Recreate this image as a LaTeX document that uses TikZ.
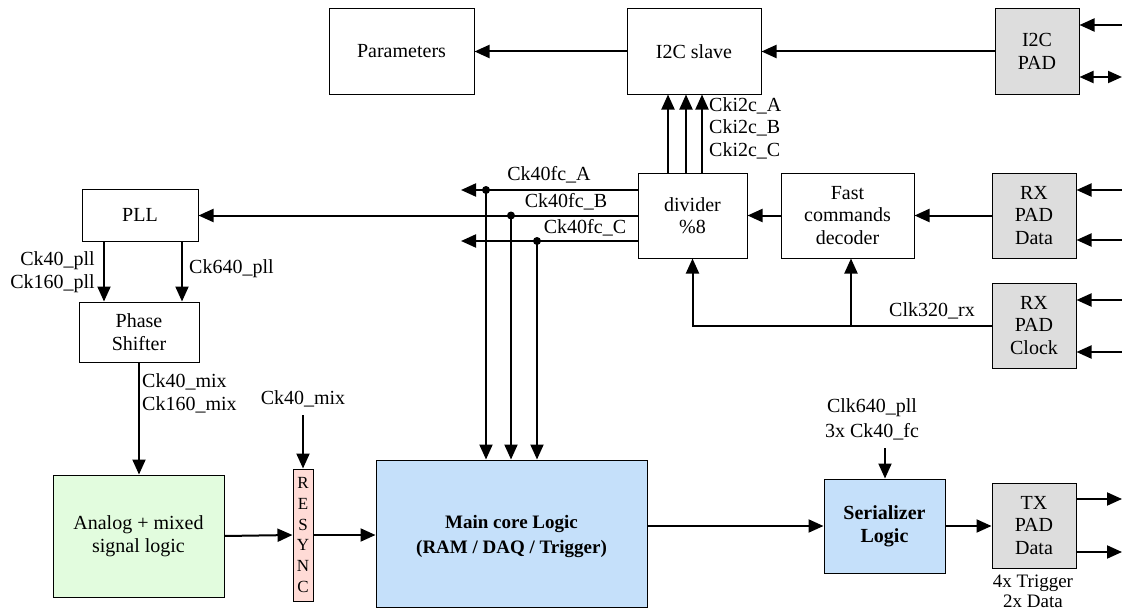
\documentclass[tikz,border=0pt]{standalone}
\usepackage{fontspec}
\setmainfont{Liberation Serif}
\usetikzlibrary{arrows.meta}
\definecolor{padgray}{RGB}{221,221,221}
\definecolor{anagreen}{RGB}{226,252,222}
\definecolor{syncpink}{RGB}{255,219,214}
\definecolor{coreblue}{RGB}{197,224,250}
\begin{document}
\begin{tikzpicture}[x=1pt,y=-1pt,
  box/.style={draw, line width=1pt, inner sep=0pt, align=center, font=\fontsize{20}{22.5}\selectfont},
  pad/.style={box, fill=padgray},
  conn/.style={line width=2pt, -{Triangle[length=15pt,width=13pt]}},
  dconn/.style={line width=2pt, {Triangle[length=14pt,width=12pt]}-{Triangle[length=14pt,width=12pt]}},
  lbl/.style={inner sep=0pt, font=\fontsize{20}{23}\selectfont},
  dot/.style={circle, fill=black, inner sep=0pt, minimum size=8pt}
]
\fill[white] (0,0) rectangle (1122,610);
\useasboundingbox (0,0) rectangle (1122,610);

% boxes
\node[box, minimum width=145pt, minimum height=85pt] (params) at (401.5,51.5) {Parameters};
\node[box, minimum width=134pt, minimum height=85pt] (i2cs) at (694,51.5) {I2C slave};
\node[pad, minimum width=84pt, minimum height=85pt] (i2cpad) at (1037,51.5) {I2C\\PAD};
\node[box, minimum width=109pt, minimum height=85pt] (div) at (692.5,215.5) {divider\\\%8};
\node[box, minimum width=133pt, minimum height=85pt] (fcd) at (847.5,215.5) {Fast\\commands\\decoder};
\node[pad, minimum width=84pt, minimum height=85pt] (rxd) at (1034,215.5) {RX\\PAD\\Data};
\node[pad, minimum width=84pt, minimum height=85pt] (rxc) at (1034,325.5) {RX\\PAD\\Clock};
\node[box, minimum width=116pt, minimum height=52pt] (pll) at (140,215) {PLL};
\node[box, minimum width=120pt, minimum height=60pt] (ps) at (139,332) {Phase\\Shifter};
\node[box, fill=anagreen, minimum width=171pt, minimum height=122pt] (ana) at (138.5,536) {Analog + mixed\\signal logic};
\node[box, fill=syncpink, minimum width=20pt, minimum height=132pt, font=\fontsize{17}{20.8}\selectfont] (sync) at (303,535) {R\\E\\S\\Y\\N\\C};
\node[box, fill=coreblue, minimum width=271pt, minimum height=147pt] (core) at (511.5,533.5) {};
\node[inner sep=0pt, align=center, font=\fontsize{19}{25}\selectfont\bfseries] (coretxt) at (511.5,537) {Main core Logic\\(RAM / DAQ / Trigger)};
\node[box, fill=coreblue, minimum width=121pt, minimum height=94pt, font=\fontsize{20}{23}\selectfont\bfseries] (ser) at (884.5,526) {Serializer\\Logic};
\node[pad, minimum width=84pt, minimum height=85pt] (tx) at (1034,525.5) {TX\\PAD\\Data};

% labels
\node[lbl, anchor=north west, align=left, font=\fontsize{20}{22.5}\selectfont] (lcki) at (709,97) {Cki2c\_A\\Cki2c\_B\\Cki2c\_C};
\node[lbl] (lfa) at (549,175) {Ck40fc\_A};
\node[lbl] (lfb) at (566,202) {Ck40fc\_B};
\node[lbl] (lfc) at (585,228) {Ck40fc\_C};
\node[lbl, anchor=east, align=right] (lpll) at (95,272) {Ck40\_pll\\Ck160\_pll};
\node[lbl, anchor=west] (l640) at (189,269) {Ck640\_pll};
\node[lbl, anchor=west, align=left] (lmix) at (142,393) {Ck40\_mix\\Ck160\_mix};
\node[lbl] (lmix2) at (303,399) {Ck40\_mix};
\node[lbl, align=center, font=\fontsize{20}{25}\selectfont] (lser) at (872,419) {Clk640\_pll\\3x Ck40\_fc};
\node[lbl] (l320) at (932,311) {Clk320\_rx};
\node[lbl, align=center, font=\fontsize{19}{20}\selectfont] (ltx) at (1033,591) {4x Trigger\\2x Data};

% free ends
\coordinate (fA) at (461,190);
\coordinate (fC) at (461,241);
\coordinate (i2cin) at (1122,25);
\coordinate (i2cio) at (1122,77);
\coordinate (rxd1) at (1122,190);
\coordinate (rxd2) at (1122,240);
\coordinate (rxc1) at (1122,300);
\coordinate (rxc2) at (1122,352);
\coordinate (tx1) at (1122,499);
\coordinate (tx2) at (1122,552);
\coordinate (mixs) at (303,415);
\coordinate (sers) at (885,448);

% junction dots
\node[dot] (dA) at (486,190) {};
\node[dot] (dB) at (511,215.5) {};
\node[dot] (dC) at (537,241) {};

% top connectors
\draw[conn] (i2cs.west) -- (params.east);
\draw[conn] (i2cpad.west) -- (i2cs.east);
\draw[conn] (i2cin) -- (i2cin -| i2cpad.east);
\draw[dconn] (i2cio -| i2cpad.east) -- (i2cio);
\foreach \dx in {-24.5,-6.5,9.5}
  \draw[conn] ([xshift=\dx pt]div.north) -- ([xshift=\dx pt]div.north |- i2cs.south);

% divider outputs
\draw[conn] (div.west |- fA) -- (fA);
\draw[conn] (div.west) -- (div.west -| pll.east);
\draw[conn] (div.west |- fC) -- (fC);
\draw[conn] (dA.center) -- (dA.center |- core.north);
\draw[conn] (dB.center) -- (dB.center |- core.north);
\draw[conn] (dC.center) -- (dC.center |- core.north);

% fast commands / rx
\draw[conn] (fcd.west) -- (div.east);
\draw[conn] (rxd.west) -- (fcd.east);
\draw[conn] (rxd1) -- (rxd1 -| rxd.east);
\draw[conn] (rxd2) -- (rxd2 -| rxd.east);
\draw[conn] (rxc1) -- (rxc1 -| rxc.east);
\draw[conn] (rxc2) -- (rxc2 -| rxc.east);
\draw[conn] (rxc.west) -- (div.south |- rxc.west) -- (div.south);
\draw[conn] ([xshift=3.5pt]fcd.south |- rxc.west) -- ([xshift=3.5pt]fcd.south);

% left side
\draw[conn] ([xshift=-36pt]pll.south) -- ([xshift=-36pt]pll.south |- ps.north);
\draw[conn] ([xshift=42pt]pll.south) -- ([xshift=42pt]pll.south |- ps.north);
\draw[conn] (ps.south) -- (ps.south |- ana.north);
\draw[conn] (mixs) -- (sync.north);
\draw[conn] (ana.east) -- (sync.west);
\draw[conn] (sync.east) -- (sync.east -| core.west);

% bottom right
\draw[conn] (core.east |- ser.west) -- (ser.west);
\draw[conn] (sers) -- (sers |- ser.north);
\draw[conn] (ser.east) -- (ser.east -| tx.west);
\draw[conn] (tx1 -| tx.east) -- (tx1);
\draw[conn] (tx2 -| tx.east) -- (tx2);
\end{tikzpicture}
\end{document}
